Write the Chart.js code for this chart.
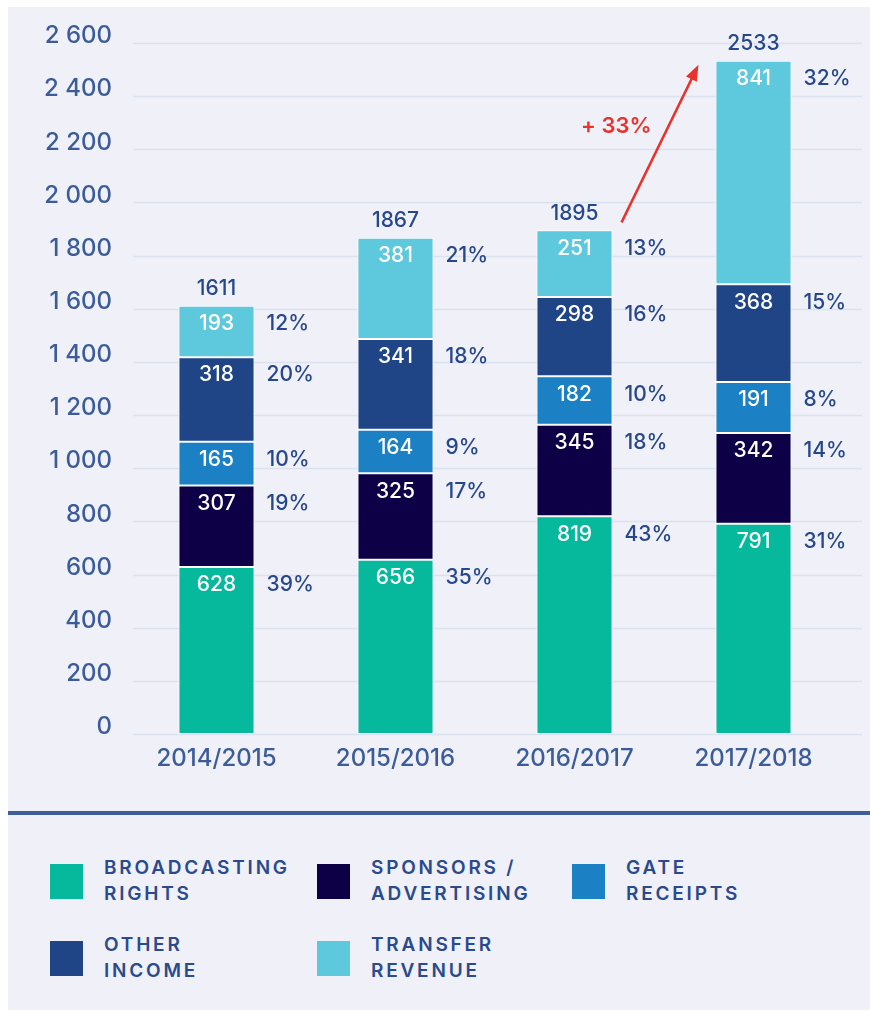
<!DOCTYPE html>
<html>
<head>
<meta charset="utf-8">
<script src="https://cdn.jsdelivr.net/npm/chart.js@4.4.1/dist/chart.umd.min.js"></script>
<style>
  html, body { margin: 0; padding: 0; background: #fff; }
  #page { position: relative; width: 870px; height: 1012px; overflow: hidden; }
  #panel { position: absolute; left: 8px; top: 7px; width: 862px; height: 1003px; background: #eff0f8; }
  #wrap { position: absolute; left: 0; top: 0; width: 870px; height: 790px; }
  #divider { position: absolute; left: 8px; top: 811px; width: 862px; height: 4px; background: #3e5e97; }
  .leg { position: absolute; display: flex; align-items: center; }
  .leg .sw { width: 33px; height: 35px; margin-right: 21px; }
  .leg .tx { font-family: Inter, "Noto Sans", sans-serif; font-weight: 600; font-size: 19px; line-height: 26px;
             letter-spacing: 2.8px; color: #2a4a8c; }
</style>
</head>
<body>
<div id="page">
  <div id="panel"></div>
  <div id="wrap"><canvas id="container" width="870" height="790"></canvas></div>
  <div id="divider"></div>
  <div id="legend"></div>
</div>
<script>
const seasons = ['2014/2015', '2015/2016', '2016/2017', '2017/2018'];
const broadcasting = [628, 656, 819, 791];
const sponsors = [307, 325, 345, 342];
const gate = [165, 164, 182, 191];
const other = [318, 341, 298, 368];
const transfer = [193, 381, 251, 841];
const totals = [1611, 1867, 1895, 2533];
const pctBroadcasting = [39, 35, 43, 31];
const pctSponsors = [19, 17, 18, 14];
const pctGate = [10, 9, 10, 8];
const pctOther = [20, 18, 16, 15];
const pctTransfer = [12, 21, 13, 32];
const growthLabel = '+ 33%';

const FONT = 'Inter, "Noto Sans", sans-serif';

const series = [
    { label: ['BROADCASTING', 'RIGHTS'], data: broadcasting, pct: pctBroadcasting, color: '#06b89c' },
    { label: ['SPONSORS /', 'ADVERTISING'], data: sponsors, pct: pctSponsors, color: '#0d0047' },
    { label: ['GATE', 'RECEIPTS'], data: gate, pct: pctGate, color: '#1b80c4' },
    { label: ['OTHER', 'INCOME'], data: other, pct: pctOther, color: '#1f4587' },
    { label: ['TRANSFER', 'REVENUE'], data: transfer, pct: pctTransfer, color: '#5ec8dc' }
];

// horizontal grid lines drawn a bit wider than the plot area, like the original
const gridPlugin = {
    id: 'grid',
    beforeDatasetsDraw(chart) {
        const ctx = chart.ctx;
        const y = chart.scales.y;
        ctx.save();
        ctx.strokeStyle = '#dbe2ef';
        ctx.lineWidth = 1.5;
        y.ticks.forEach(t => {
            const py = Math.round(y.getPixelForValue(t.value)) + 0.5;
            ctx.beginPath();
            ctx.moveTo(133, py);
            ctx.lineTo(862, py);
            ctx.stroke();
        });
        ctx.restore();
    }
};

const labelPlugin = {
    id: 'labels',
    afterDatasetsDraw(chart) {
        const ctx = chart.ctx;
        ctx.save();
        ctx.textBaseline = 'middle';
        chart.data.datasets.forEach((ds, i) => {
            const meta = chart.getDatasetMeta(i);
            meta.data.forEach((bar, j) => {
                const top = Math.min(bar.y, bar.base);
                ctx.font = '500 21px ' + FONT;
                ctx.fillStyle = '#ffffff';
                ctx.textAlign = 'center';
                ctx.fillText(String(ds.data[j]), bar.x, top + 18);
                ctx.fillStyle = '#26478b';
                ctx.textAlign = 'left';
                ctx.fillText(series[i].pct[j] + '%', bar.x + bar.width / 2 + 12, top + 18);
            });
        });
        // totals above the stacks
        const lastMeta = chart.getDatasetMeta(chart.data.datasets.length - 1);
        lastMeta.data.forEach((bar, j) => {
            ctx.font = '500 21px ' + FONT;
            ctx.fillStyle = '#26478b';
            ctx.textAlign = 'center';
            ctx.fillText(String(totals[j]), bar.x, bar.y - 17);
        });
        // growth arrow between the last two seasons
        const b3 = lastMeta.data[2], b4 = lastMeta.data[3];
        const sx = b3.x + b3.width / 2 + 9, sy = b3.y - 8;
        const ex = b4.x - b4.width / 2 - 17, ey = b4.y + 4;
        const ang = Math.atan2(ey - sy, ex - sx);
        ctx.strokeStyle = '#e8322b';
        ctx.fillStyle = '#e8322b';
        ctx.lineWidth = 2.5;
        ctx.beginPath();
        ctx.moveTo(sx, sy);
        ctx.lineTo(ex - 12 * Math.cos(ang), ey - 12 * Math.sin(ang));
        ctx.stroke();
        ctx.beginPath();
        ctx.moveTo(ex, ey);
        ctx.lineTo(ex - 16 * Math.cos(ang) + 6 * Math.sin(ang), ey - 16 * Math.sin(ang) - 6 * Math.cos(ang));
        ctx.lineTo(ex - 16 * Math.cos(ang) - 6 * Math.sin(ang), ey - 16 * Math.sin(ang) + 6 * Math.cos(ang));
        ctx.closePath();
        ctx.fill();
        ctx.font = '600 22px ' + FONT;
        ctx.textAlign = 'right';
        ctx.fillText(growthLabel, sx + 30, (sy + ey) / 2 - 17);
        ctx.restore();
    }
};

new Chart(document.getElementById('container'), {
    type: 'bar',
    data: {
        labels: seasons,
        datasets: series.map(s => ({
            label: s.label.join(' '),
            data: s.data,
            backgroundColor: s.color,
            borderColor: '#ffffff',
            borderWidth: 1,
            borderSkipped: false,
            categoryPercentage: 1,
            barPercentage: 0.425
        }))
    },
    options: {
        responsive: false,
        animation: false,
        layout: { padding: { top: 43, right: 27, left: 0, bottom: 0 } },
        plugins: { legend: { display: false }, tooltip: { enabled: false } },
        scales: {
            x: {
                stacked: true,
                grid: { display: false, drawTicks: false },
                border: { display: false },
                ticks: { color: '#3b5c98', font: { family: FONT, size: 24, weight: '500' }, padding: 10 },
                afterFit(scale) { scale.height = 56; }
            },
            y: {
                stacked: true,
                min: 0,
                max: 2600,
                grid: { display: false, drawTicks: false },
                border: { display: false },
                ticks: {
                    stepSize: 200,
                    padding: 15,
                    labelOffset: -7,
                    color: '#3b5c98',
                    font: { family: FONT, size: 24, weight: '500' },
                    callback: v => String(v).replace(/\B(?=(\d{3})+(?!\d))/g, ' ')
                },
                afterFit(scale) { scale.width = 127; }
            }
        }
    },
    plugins: [gridPlugin, labelPlugin]
});

// legend in the lower panel
const legendPos = [[50, 863], [317, 863], [572, 863], [50, 940], [317, 940]];
const legend = document.getElementById('legend');
series.forEach((s, i) => {
    const d = document.createElement('div');
    d.className = 'leg';
    d.style.left = legendPos[i][0] + 'px';
    d.style.top = (legendPos[i][1] - 8) + 'px';
    d.innerHTML = '<div class="sw" style="background:' + s.color + '"></div><div class="tx">' + s.label.join('<br>') + '</div>';
    legend.appendChild(d);
});
</script>
</body>
</html>
